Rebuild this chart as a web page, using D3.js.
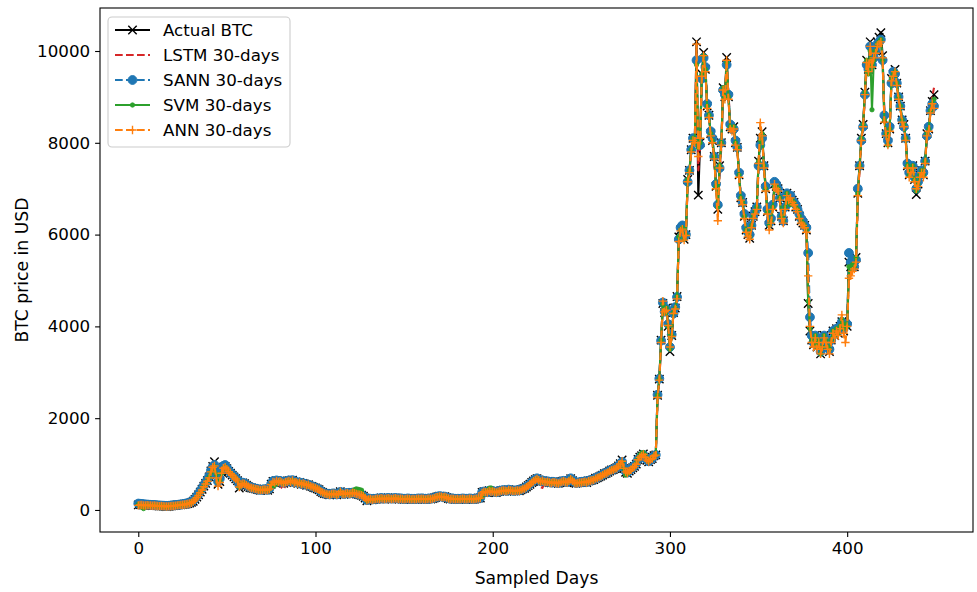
<!DOCTYPE html>
<html>
<head>
<meta charset="utf-8">
<script src="https://cdnjs.cloudflare.com/ajax/libs/d3/7.8.5/d3.min.js"></script>
<style>
  body { margin: 0; background: #fff; }
  svg { font-family: "DejaVu Sans", sans-serif; }
</style>
</head>
<body>
<script>
// values, one per sampled day (0..449)
var actualBTC = [
  110,120,115,105,100,110,105,100,95,100,
  95,90,85,90,85,80,75,80,85,90,
  95,100,105,110,115,120,125,130,140,150,
  165,190,230,280,330,390,450,520,580,640,
  720,850,950,1050,760,560,620,820,930,950,
  900,840,800,760,720,680,640,480,560,590,
  570,540,510,490,480,470,460,450,440,430,
  440,450,440,430,460,560,620,600,640,610,
  630,600,580,610,620,640,610,650,600,610,
  580,600,560,580,560,540,550,520,510,490,
  480,460,440,400,380,360,350,340,330,350,
  360,350,330,350,400,360,340,360,370,350,
  360,380,370,350,340,330,320,300,260,200,
  230,240,220,230,240,250,240,260,250,240,
  250,260,250,240,250,260,250,240,250,240,
  230,240,250,240,230,240,230,240,250,240,
  250,240,230,240,250,240,250,260,280,290,
  300,290,280,290,270,250,240,250,240,230,
  240,230,240,250,240,230,240,250,240,230,
  240,250,260,260,380,400,390,380,420,400,
  410,390,380,400,410,420,430,420,410,440,
  430,420,410,420,430,420,440,460,470,500,
  530,560,600,630,660,680,650,620,640,620,
  610,620,600,590,610,600,590,580,600,620,
  630,610,600,640,680,640,600,580,590,600,
  600,610,620,600,630,640,650,660,690,700,
  720,740,760,790,800,820,850,870,880,900,
  920,960,1010,1090,900,820,800,850,880,920,
  950,1000,1100,1150,1180,1220,1150,1080,1050,1100,
  1120,1180,1200,2500,2850,3700,4500,4300,4400,4000,
  3450,3800,4300,4400,4650,5950,6100,6150,5900,6000,
  7200,7400,7850,8100,8000,10200,6860,8000,9500,9970,
  9600,8800,8600,8200,8050,7700,7050,6550,7500,8000,
  9200,9000,9860,9000,8350,8300,8350,8000,7900,7300,
  6800,6700,6400,6100,6000,5920,6200,6400,6500,6600,
  7600,8100,8240,7500,7000,6500,6200,6300,6600,7100,
  7050,7000,6800,6400,6300,6600,6900,6800,6850,6750,
  6700,6600,6550,6400,6300,6250,6200,6100,4500,3900,
  3700,3600,3800,3550,3700,3400,3600,3800,3700,3550,
  3450,3700,3900,3800,3950,3850,4000,4100,3900,4050,
  4000,5400,5300,5400,5300,5500,6900,7500,8100,8400,
  9100,9800,9600,10200,9700,9900,10000,10200,10300,10400,
  9900,8500,8200,8000,8300,9400,9500,9600,9300,9000,
  8800,8500,8400,8100,7500,7300,7400,7500,7200,6870,
  7100,7300,7400,7300,7600,8200,8300,8700,8900,9050
];

var lstm30 = [
  115,112,118,110,102,104,108,102,98,97,
  98,93,88,87,88,83,78,77,82,87,
  92,97,102,107,112,117,122,127,134,144,
  158,178,215,262,315,372,432,500,565,625,
  695,800,910,1000,850,600,580,760,900,940,
  920,860,810,770,730,690,650,520,530,580,
  575,550,520,495,482,472,462,452,442,432,
  436,446,442,432,452,530,600,605,630,615,
  560,480,450,520,600,630,615,640,610,608,
  585,595,565,575,562,545,548,525,512,495,
  483,465,445,410,386,365,352,342,333,346,
  357,352,335,346,390,368,345,356,367,353,
  358,376,371,354,343,333,323,305,270,215,
  225,237,224,229,238,248,242,257,251,242,
  248,258,251,242,248,258,251,242,248,241,
  232,238,248,241,232,238,232,238,248,241,
  248,241,232,238,248,241,248,258,276,288,
  298,291,282,288,272,253,242,248,241,232,
  238,232,238,248,241,232,238,248,241,232,
  238,248,258,260,360,396,391,382,415,402,
  408,392,382,398,408,418,428,421,412,436,
  431,422,412,418,428,421,437,456,468,495,
  525,555,595,625,655,640,560,500,480,560,
  605,618,602,592,608,601,592,582,597,617,
  628,612,602,636,675,645,605,584,589,598,
  600,608,618,602,627,638,648,658,686,698,
  717,737,757,786,798,818,846,867,878,897,
  917,955,1000,1075,920,830,805,845,876,915,
  945,995,1090,1140,1175,1210,1160,1090,1055,1095,
  1115,1175,1195,2400,2800,3600,4400,4350,4380,4050,
  3550,3750,4250,4380,4600,5800,6050,6120,5950,5980,
  7050,7350,7800,8050,8020,9900,7400,7900,9300,9850,
  9650,8900,8550,8250,8000,7500,7200,6800,7300,7900,
  9100,9050,9700,9100,8400,8250,8300,8050,7850,7350,
  6850,6650,6450,6150,6050,5950,6150,6350,6450,6550,
  7400,8000,8150,7600,7050,6550,6250,6200,6500,7000,
  7000,6950,6750,6350,6200,6550,6850,6800,6800,6700,
  6650,6550,6500,6350,6250,6200,6150,6050,4700,3950,
  3750,3650,3750,3600,3650,3500,3600,3750,3700,3600,
  3500,3650,3850,3800,3900,3850,3950,4050,3950,4000,
  4000,5200,5300,5350,5300,5450,6700,7400,8000,8300,
  9000,9600,9500,10000,9600,9800,9950,10100,10200,10300,
  9700,8700,8300,8100,8300,9300,9400,9500,9250,9000,
  8750,8500,8350,8100,7550,7350,7400,7450,7250,7000,
  7150,7300,7350,7300,7550,8100,8350,8750,9000,9200
];

var sann30 = [
  140,135,130,125,120,118,115,112,110,108,
  105,100,98,96,94,92,90,92,95,100,
  104,108,112,116,120,126,132,140,150,162,
  178,205,245,295,350,410,470,535,595,660,
  740,860,940,980,800,620,680,860,960,980,
  920,860,810,770,730,690,650,540,570,595,
  580,550,520,500,488,476,466,456,446,438,
  444,452,446,438,470,570,630,615,645,620,
  635,610,595,615,628,645,620,650,610,615,
  588,600,568,582,566,548,552,528,515,498,
  485,468,448,410,388,368,356,346,338,352,
  362,355,338,354,395,366,348,362,372,356,
  364,380,374,356,346,336,326,306,268,215,
  235,245,228,236,244,252,246,262,254,246,
  254,262,254,246,254,262,254,246,254,246,
  236,244,252,246,236,244,236,244,252,246,
  254,246,236,244,252,246,254,264,282,292,
  302,294,284,292,274,256,246,254,246,236,
  244,236,244,252,246,236,244,252,246,236,
  244,252,262,264,385,402,394,386,422,406,
  414,396,386,404,414,424,434,424,416,444,
  434,424,416,424,434,426,444,464,476,505,
  535,565,605,635,665,690,660,630,645,625,
  615,625,605,595,615,605,595,585,605,625,
  635,615,605,645,690,650,610,588,595,605,
  605,615,625,605,635,645,655,665,695,705,
  725,745,765,795,805,825,855,875,885,905,
  925,965,1000,1050,920,840,815,860,890,930,
  960,1010,1100,1140,1170,1200,1150,1090,1060,1105,
  1125,1180,1200,2510,2860,3690,4520,4320,4380,4050,
  3550,3820,4280,4420,4640,5900,6150,6200,5950,6000,
  7150,7400,7850,8100,8050,9800,8000,7950,9400,9850,
  9650,8850,8600,8250,8100,7700,7100,6650,7450,8000,
  9150,9050,9700,9050,8400,8300,8300,8050,7900,7350,
  6850,6700,6450,6150,6050,6000,6200,6400,6500,6600,
  7500,7950,8100,7500,7050,6550,6250,6350,6650,7150,
  7100,7000,6800,6400,6300,6600,6900,6850,6850,6750,
  6700,6650,6550,6450,6350,6300,6200,6150,5600,4200,
  3800,3650,3800,3600,3700,3450,3600,3800,3700,3600,
  3500,3700,3900,3850,3950,3900,4000,4100,3950,4050,
  4050,5600,5400,5450,5300,5450,7000,7500,8050,8350,
  9050,9700,9600,10100,9700,9850,10000,10150,10200,10250,
  9800,8600,8200,8050,8350,9300,9550,9500,9300,9000,
  8800,8500,8350,8100,7550,7350,7400,7500,7250,7000,
  7150,7300,7400,7350,7600,8150,8350,8700,8850,8800
];

var svm30 = [
  120,105,60,30,95,108,103,98,94,98,
  94,89,85,88,84,79,75,79,84,89,
  94,99,104,109,114,119,124,129,138,148,
  162,186,225,275,325,385,445,512,575,640,
  720,820,880,950,780,600,640,800,900,940,
  900,845,805,765,725,685,645,500,555,585,
  568,540,512,492,482,472,462,452,442,432,
  440,448,440,432,460,550,520,540,580,600,
  625,605,585,605,618,636,612,645,602,610,
  582,598,562,578,562,542,550,522,510,492,
  481,462,442,402,382,362,352,342,332,348,
  358,350,332,350,395,362,342,360,368,352,
  360,390,440,460,450,440,430,320,265,205,
  230,240,222,230,240,250,242,258,250,242,
  250,258,250,242,250,258,250,242,250,242,
  232,240,250,242,232,240,232,240,250,242,
  250,242,232,240,250,242,250,260,278,288,
  298,290,280,290,272,252,242,250,242,232,
  240,232,240,250,242,232,240,250,242,232,
  240,250,258,262,300,390,400,420,470,480,
  420,395,385,400,410,420,428,420,412,440,
  432,422,412,420,430,422,440,460,470,500,
  530,558,598,628,658,676,652,622,638,620,
  610,620,602,592,610,602,592,582,600,618,
  628,612,602,638,678,642,602,582,590,600,
  600,610,620,602,630,640,650,660,688,700,
  718,738,758,788,800,820,848,868,880,900,
  920,958,1000,1040,900,760,790,850,880,920,
  950,1020,1120,1200,1240,1250,1200,1100,1060,1100,
  1120,1180,1200,2500,2850,3700,4480,4300,4400,4000,
  3500,3800,4300,4400,4650,5950,6100,6150,5900,6000,
  7200,7400,7850,8100,8000,9700,7900,8000,9500,9900,
  9600,8800,8600,8200,8050,7700,7050,6600,7500,8000,
  9200,9000,9750,9000,8350,8300,8350,8000,7900,7300,
  6800,6700,6400,6100,6000,5950,6200,6400,6500,6600,
  7600,8050,8200,7500,7000,6500,6200,6300,6600,7050,
  7050,7000,6800,6400,6300,6600,6900,6700,6650,6750,
  6700,6600,6550,6400,6300,6250,6200,6100,4550,3950,
  3700,3600,3800,3550,3700,3400,3550,3800,3700,3550,
  3500,3700,3900,3800,3950,3850,4000,4150,3950,4050,
  4000,5300,5200,5350,5300,5500,6900,7500,8100,8400,
  9100,9800,9500,10000,8720,9800,10000,10150,10200,10250,
  9800,8500,8200,7950,8300,9400,9500,9550,9300,9000,
  8800,8500,8400,8100,7500,7300,7400,7500,7200,6950,
  7100,7300,7400,7300,7600,8200,8300,8700,8850,8950
];

var ann30 = [
  100,110,108,100,96,104,100,96,92,96,
  92,88,84,86,82,78,74,78,82,86,
  90,95,100,105,110,115,120,126,134,144,
  158,182,220,268,318,376,436,505,565,625,
  700,830,930,960,700,520,600,800,910,930,
  890,835,795,755,715,675,635,500,545,580,
  565,538,510,490,480,470,460,450,440,432,
  438,446,440,432,458,555,612,598,635,608,
  626,598,580,605,616,634,608,645,600,606,
  578,596,560,576,560,540,548,520,508,490,
  478,460,440,402,382,362,350,340,332,348,
  356,350,332,350,396,360,342,358,366,350,
  358,376,368,350,340,330,320,300,262,210,
  230,238,222,230,238,248,240,256,248,240,
  248,256,248,240,248,256,248,240,248,240,
  230,238,248,240,230,238,230,238,248,240,
  248,240,230,238,248,240,248,258,276,286,
  296,288,278,288,270,250,240,248,240,230,
  238,230,238,248,240,230,238,248,240,230,
  238,248,256,258,370,396,388,380,416,398,
  406,390,380,398,408,418,428,418,410,436,
  428,418,410,418,428,420,438,456,466,496,
  526,556,596,626,656,675,648,618,636,616,
  606,616,598,588,606,598,588,578,596,616,
  626,608,598,634,672,638,598,578,586,596,
  598,606,616,598,626,636,646,656,684,696,
  716,736,756,786,796,816,846,866,876,896,
  916,955,1000,1060,910,830,805,850,880,918,
  946,996,1095,1145,1175,1210,1150,1085,1055,1098,
  1118,1175,1195,2450,2830,3650,4550,4320,4350,4020,
  3550,3780,4280,4380,4600,5850,6080,6120,5880,5980,
  7150,7350,7800,8050,8000,10150,7700,8100,9450,9900,
  9550,8750,8550,8150,8000,7650,7000,6300,7450,7950,
  9150,8950,9800,8950,8300,8250,8300,7950,7850,7250,
  6750,6650,6350,6050,5950,5900,6150,6350,6450,6550,
  7550,8440,8150,7450,6950,6450,6100,6250,6550,7100,
  7000,6950,6750,6350,6250,6550,6850,6750,6800,6700,
  6650,6550,6500,6350,6250,6200,6150,6050,5100,4000,
  3650,3550,3750,3500,3650,3400,3550,3750,3650,3500,
  3400,3650,3850,3750,3900,3800,3950,4250,3850,3650,
  4000,5050,5100,5200,5250,5400,6850,7450,8050,8350,
  9050,9750,9550,10100,9650,9850,9950,10100,10150,10200,
  9850,8450,8150,7950,8250,9350,9450,9550,9250,8950,
  8750,8450,8350,8050,7450,7250,7350,7450,7150,7000,
  7050,7250,7350,7250,7550,8150,8250,8650,8850,8750
];

var seriesNames = ["Actual BTC", "LSTM 30-days", "SANN 30-days", "SVM 30-days", "ANN 30-days"];
var yTicks = [0, 2000, 4000, 6000, 8000, 10000];
var xTicks = [0, 100, 200, 300, 400];

var series = [
  {name: seriesNames[0], values: actualBTC, color: "#000000", dash: null, marker: "x"},
  {name: seriesNames[1], values: lstm30, color: "#d62728", dash: "7.7,3.3", marker: null},
  {name: seriesNames[2], values: sann30, color: "#1f77b4", dash: "7.7,3.3", marker: "o"},
  {name: seriesNames[3], values: svm30, color: "#2ca02c", dash: null, marker: "."},
  {name: seriesNames[4], values: ann30, color: "#ff7f0e", dash: "7.7,3.3", marker: "+"}
];

var fullwidth = 977, fullheight = 592;
var plot = {left: 100, right: 973, top: 8, bottom: 532};

var svg = d3.select("body").append("svg")
  .attr("width", fullwidth)
  .attr("height", fullheight);

var xscale = d3.scaleLinear().domain([-21.6, 471]).range([plot.left, plot.right]);
var yscale = d3.scaleLinear().domain([-480, 10937]).range([plot.bottom, plot.top]);

svg.append("clipPath").attr("id", "clip")
  .append("rect")
  .attr("x", plot.left).attr("y", plot.top)
  .attr("width", plot.right - plot.left).attr("height", plot.bottom - plot.top);

// draw a marker symbol at 0,0
function drawMarker(g, type, color) {
  if (type === "x") {
    g.append("path").attr("d", "M-4.2,-4.2L4.2,4.2M-4.2,4.2L4.2,-4.2")
      .attr("stroke", color).attr("stroke-width", 1.4).attr("fill", "none");
  } else if (type === "+") {
    g.append("path").attr("d", "M-4.2,0L4.2,0M0,-4.2L0,4.2")
      .attr("stroke", color).attr("stroke-width", 1.4).attr("fill", "none");
  } else if (type === "o") {
    g.append("circle").attr("r", 4.4).attr("fill", color)
      .attr("stroke", color).attr("stroke-width", 1);
  } else if (type === ".") {
    g.append("circle").attr("r", 2.2).attr("fill", color)
      .attr("stroke", color).attr("stroke-width", 0.8);
  }
}

var line = d3.line()
  .x(function(d, i) { return xscale(i); })
  .y(function(d) { return yscale(d); });

var plotArea = svg.append("g").attr("clip-path", "url(#clip)");

series.forEach(function(s) {
  var g = plotArea.append("g");
  g.append("path")
    .datum(s.values)
    .attr("d", line)
    .attr("fill", "none")
    .attr("stroke", s.color)
    .attr("stroke-width", 2.1)
    .attr("stroke-dasharray", s.dash)
    .attr("stroke-linejoin", "round");
  if (s.marker) {
    g.selectAll(".m")
      .data(s.values)
      .enter().append("g")
      .attr("transform", function(d, i) { return "translate(" + xscale(i) + "," + yscale(d) + ")"; })
      .each(function() { drawMarker(d3.select(this), s.marker, s.color); });
  }
});

// axes
var xAxis = svg.append("g")
  .attr("transform", "translate(0," + plot.bottom + ")")
  .call(d3.axisBottom(xscale).tickValues(xTicks).tickFormat(d3.format("d"))
    .tickSize(4.9).tickPadding(4.9).tickSizeOuter(0));
var yAxis = svg.append("g")
  .attr("transform", "translate(" + plot.left + ",0)")
  .call(d3.axisLeft(yscale).tickValues(yTicks).tickFormat(d3.format("d"))
    .tickSize(4.9).tickPadding(4.9).tickSizeOuter(0));

[xAxis, yAxis].forEach(function(ax) {
  ax.select(".domain").remove();
  ax.selectAll(".tick line").attr("stroke", "#000").attr("stroke-width", 1.1);
  ax.selectAll(".tick text")
    .attr("fill", "#000")
    .style("font-size", "16.7px")
    .style("font-family", "DejaVu Sans");
});

// frame
svg.append("rect")
  .attr("x", plot.left).attr("y", plot.top)
  .attr("width", plot.right - plot.left).attr("height", plot.bottom - plot.top)
  .attr("fill", "none").attr("stroke", "#000").attr("stroke-width", 1.1);

// axis titles
svg.append("text")
  .attr("x", (plot.left + plot.right) / 2)
  .attr("y", 584)
  .attr("text-anchor", "middle")
  .style("font-size", "17.2px")
  .text("Sampled Days");

svg.append("text")
  .attr("transform", "translate(28," + ((plot.top + plot.bottom) / 2) + ") rotate(-90)")
  .attr("text-anchor", "middle")
  .style("font-size", "17.2px")
  .text("BTC price in USD");

// legend
var legend = svg.append("g");
legend.append("rect")
  .attr("x", 108).attr("y", 17)
  .attr("width", 182).attr("height", 130)
  .attr("rx", 4)
  .attr("fill", "#fff").attr("fill-opacity", 0.8)
  .attr("stroke", "#cccccc").attr("stroke-width", 1.1);

var entry = legend.selectAll(".entry")
  .data(series)
  .enter().append("g")
  .attr("transform", function(d, i) { return "translate(0," + (30 + i * 25) + ")"; });

entry.append("line")
  .attr("x1", 115).attr("x2", 150)
  .attr("stroke", function(d) { return d.color; })
  .attr("stroke-width", 2.1)
  .attr("stroke-dasharray", function(d) { return d.dash; });

entry.each(function(d) {
  if (d.marker) {
    var m = d3.select(this).append("g").attr("transform", "translate(132.5,0)");
    drawMarker(m, d.marker, d.color);
  }
});

entry.append("text")
  .attr("x", 163)
  .attr("dy", "0.35em")
  .style("font-size", "16.7px")
  .text(function(d) { return d.name; });
</script>
</body>
</html>
